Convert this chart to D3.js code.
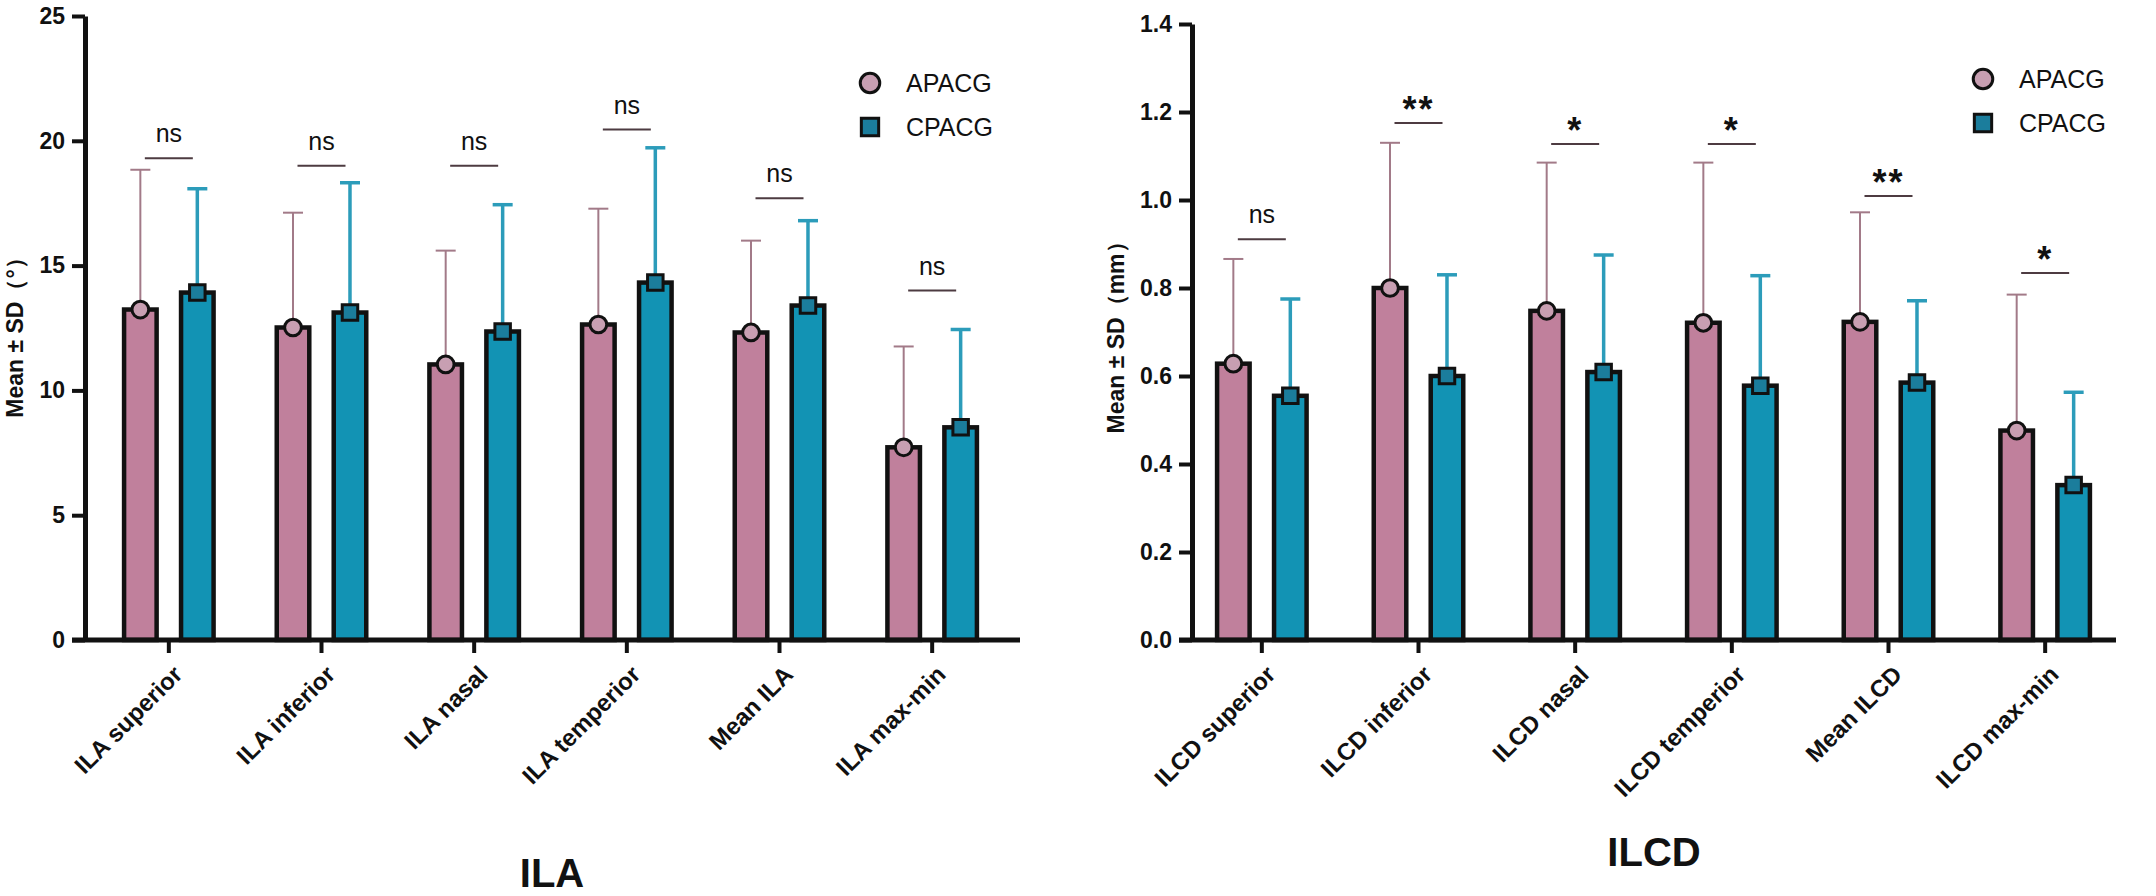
<!DOCTYPE html>
<html>
<head>
<meta charset="utf-8">
<script src="https://cdn.jsdelivr.net/npm/d3@7"></script>
<style>
  body { margin: 0; background: #fff; }
  svg { display: block; }
  text { font-family: "Liberation Sans", Arial, sans-serif; }
</style>
</head>
<body>
<div id="chart"></div>
<script>
// groups and colours
const groups = ["APACG", "CPACG"]

// ILA panel data (degrees)
const ilaCats = ["ILA superior", "ILA inferior", "ILA nasal", "ILA temperior", "Mean ILA", "ILA max-min"]
const ilaMeanA = [13.24, 12.52, 11.04, 12.64, 12.32, 7.72]
const ilaSdA = [5.60, 4.60, 4.56, 4.64, 3.68, 4.04]
const ilaMeanC = [13.92, 13.12, 12.36, 14.32, 13.40, 8.52]
const ilaSdC = [4.16, 5.20, 5.08, 5.40, 3.40, 3.92]
const ilaSig = ["ns", "ns", "ns", "ns", "ns", "ns"]
const ilaSigAt = [19.3, 19.0, 19.0, 20.45, 17.7, 14.0]
const ilaTicks = [0, 5, 10, 15, 20, 25]

// ILCD panel data (mm)
const ilcdCats = ["ILCD superior", "ILCD inferior", "ILCD nasal", "ILCD temperior", "Mean ILCD", "ILCD max-min"]
const ilcdMeanA = [0.628, 0.800, 0.748, 0.721, 0.723, 0.476]
const ilcdSdA = [0.238, 0.330, 0.337, 0.364, 0.249, 0.309]
const ilcdMeanC = [0.555, 0.600, 0.609, 0.578, 0.585, 0.352]
const ilcdSdC = [0.220, 0.230, 0.266, 0.250, 0.186, 0.211]
const ilcdSig = ["ns", "**", "*", "*", "**", "*"]
const ilcdSigAt = [0.911, 1.175, 1.127, 1.127, 1.009, 0.834]
const ilcdTicks = [0, 0.2, 0.4, 0.6, 0.8, 1.0, 1.2, 1.4]

const width = 2156
const height = 896

const barFill = { APACG: "#c0809c", CPACG: "#1293b4" }
const markFill = { APACG: "#c89fb2", CPACG: "#1b7d9c" }
const errColor = { APACG: "#a27a88", CPACG: "#2c9cba" }
const errWidth = { APACG: 2, CPACG: 3.5 }

const svg = d3.select("#chart")
  .append("svg")
    .attr("width", width)
    .attr("height", height)

function drawPanel(p) {
  const g = svg.append("g")

  const y = d3.scaleLinear().domain([0, p.ticks[p.ticks.length - 1]]).range([640, p.top])
  const x0 = d3.scaleBand().domain(p.cats).range(p.xRange)
  const x1 = d3.scaleBand().domain(groups).range([-47, 47]).paddingInner(0.35)
  const sw = 4.5

  const rows = p.cats.map((c, i) => ({
    cat: c, sig: p.sig[i], sigAt: p.sigAt[i],
    vals: [
      { key: "APACG", mean: p.meanA[i], sd: p.sdA[i] },
      { key: "CPACG", mean: p.meanC[i], sd: p.sdC[i] }
    ]
  }))

  const cx = (cat, key) => x0(cat) + x0.bandwidth() / 2 + x1(key) + x1.bandwidth() / 2

  const grp = g.selectAll(".grp")
    .data(rows)
    .join("g")
      .attr("class", "grp")

  // bars
  grp.selectAll("rect.bar")
    .data(d => d.vals.map(v => Object.assign({ cat: d.cat }, v)))
    .join("rect")
      .attr("class", "bar")
      .attr("x", d => cx(d.cat, d.key) - (x1.bandwidth() - sw) / 2)
      .attr("width", x1.bandwidth() - sw)
      .attr("y", d => y(d.mean))
      .attr("height", d => y(0) - y(d.mean))
      .attr("fill", d => barFill[d.key])
      .attr("stroke", "#111")
      .attr("stroke-width", sw)

  // error bars (upper only)
  const err = grp.selectAll("g.err")
    .data(d => d.vals.map(v => Object.assign({ cat: d.cat }, v)))
    .join("g")
      .attr("class", "err")
      .attr("stroke", d => errColor[d.key])
      .attr("stroke-width", d => errWidth[d.key])
  err.append("line")
    .attr("x1", d => cx(d.cat, d.key))
    .attr("x2", d => cx(d.cat, d.key))
    .attr("y1", d => y(d.mean))
    .attr("y2", d => y(d.mean + d.sd))
  err.append("line")
    .attr("x1", d => cx(d.cat, d.key) - 10)
    .attr("x2", d => cx(d.cat, d.key) + 10)
    .attr("y1", d => y(d.mean + d.sd))
    .attr("y2", d => y(d.mean + d.sd))

  // markers at the mean
  grp.selectAll("path.mark")
    .data(d => d.vals.map(v => Object.assign({ cat: d.cat }, v)))
    .join("path")
      .attr("class", "mark")
      .attr("d", d => d3.symbol(d.key === "APACG" ? d3.symbolCircle : d3.symbolSquare, d.key === "APACG" ? 220 : 240)())
      .attr("transform", d => `translate(${cx(d.cat, d.key)},${y(d.mean)})`)
      .attr("fill", d => markFill[d.key])
      .attr("stroke", "#111")
      .attr("stroke-width", 3)

  // significance brackets
  const sig = grp.append("g")
    .attr("transform", d => `translate(${x0(d.cat) + x0.bandwidth() / 2},${y(d.sigAt)})`)
  sig.append("line")
    .attr("x1", -24).attr("x2", 24)
    .attr("stroke", "#4d3b41")
    .attr("stroke-width", 2)
  sig.append("text")
    .attr("text-anchor", "middle")
    .attr("y", d => d.sig === "ns" ? -16 : -1)
    .attr("font-size", d => d.sig === "ns" ? 25 : 36)
    .attr("font-weight", d => d.sig === "ns" ? "normal" : "bold")
    .attr("letter-spacing", d => d.sig === "ns" ? 0 : 2)
    .attr("fill", "#111")
    .text(d => d.sig)

  // y axis
  const yAxis = g.append("g")
    .attr("transform", `translate(${p.axisX},0)`)
    .call(d3.axisLeft(y).tickValues(p.ticks).tickSize(13).tickSizeOuter(0).tickPadding(7).tickFormat(p.fmt))
  yAxis.select(".domain").attr("stroke", "#111").attr("stroke-width", 5)
  yAxis.selectAll(".tick line").attr("stroke", "#111").attr("stroke-width", 4)
  yAxis.selectAll(".tick text")
    .attr("font-size", 23)
    .attr("font-weight", "bold")
    .attr("fill", "#111")
    .style("font-family", '"Liberation Sans", Arial, sans-serif')

  // x axis
  g.append("line")
    .attr("x1", p.axisX - 13).attr("x2", p.axisEnd)
    .attr("y1", y(0)).attr("y2", y(0))
    .attr("stroke", "#111")
    .attr("stroke-width", 5)
  const xAxis = g.append("g")
    .attr("transform", `translate(0,${y(0)})`)
    .call(d3.axisBottom(x0).tickSize(13).tickSizeOuter(0))
  xAxis.select(".domain").remove()
  xAxis.selectAll(".tick line").attr("stroke", "#111").attr("stroke-width", 4)
  xAxis.selectAll(".tick text")
    .attr("x", 0).attr("y", 0).attr("dy", null)
    .attr("text-anchor", "end")
    .attr("transform", "translate(15,36) rotate(-45)")
    .attr("font-size", 24)
    .attr("font-weight", "bold")
    .attr("fill", "#111")
    .style("font-family", '"Liberation Sans", Arial, sans-serif')

  // y axis title
  g.append("text")
    .attr("transform", `translate(${p.yTitleX},332) rotate(-90)`)
    .attr("text-anchor", "middle")
    .attr("dominant-baseline", "middle")
    .attr("font-size", 23)
    .attr("font-weight", "bold")
    .attr("fill", "#111")
    .text(p.yTitle)

  // panel title
  g.append("text")
    .attr("x", p.titleX)
    .attr("y", p.titleY)
    .attr("text-anchor", "middle")
    .attr("font-size", 40)
    .attr("font-weight", "bold")
    .attr("fill", "#111")
    .text(p.title)

  // legend
  const legend = g.append("g")
    .attr("transform", `translate(${p.legendX},${p.legendY})`)
  const items = legend.selectAll(".legend-item")
    .data(groups)
    .join("g")
      .attr("class", "legend-item")
      .attr("transform", (d, i) => `translate(0,${i * 44})`)
  items.append("path")
    .attr("d", d => d3.symbol(d === "APACG" ? d3.symbolCircle : d3.symbolSquare, 300)())
    .attr("fill", d => markFill[d])
    .attr("stroke", "#111")
    .attr("stroke-width", 3)
  items.append("text")
    .attr("x", 36)
    .attr("dy", "0.35em")
    .attr("font-size", 25)
    .attr("fill", "#111")
    .text(d => d)
}

drawPanel({
  cats: ilaCats, meanA: ilaMeanA, sdA: ilaSdA, meanC: ilaMeanC, sdC: ilaSdC,
  sig: ilaSig, sigAt: ilaSigAt, ticks: ilaTicks, fmt: d3.format("d"),
  top: 16, xRange: [92.5, 1008.5], axisX: 85, axisEnd: 1020,
  yTitle: "Mean ± SD（°）", yTitleX: 17,
  title: "ILA", titleX: 552, titleY: 887,
  legendX: 870, legendY: 83
})

drawPanel({
  cats: ilcdCats, meanA: ilcdMeanA, sdA: ilcdSdA, meanC: ilcdMeanC, sdC: ilcdSdC,
  sig: ilcdSig, sigAt: ilcdSigAt, ticks: ilcdTicks, fmt: d3.format(".1f"),
  top: 24, xRange: [1183.5, 2123.5], axisX: 1192, axisEnd: 2116,
  yTitle: "Mean ± SD（mm）", yTitleX: 1118,
  title: "ILCD", titleX: 1654, titleY: 866,
  legendX: 1983, legendY: 79
})
</script>
</body>
</html>
